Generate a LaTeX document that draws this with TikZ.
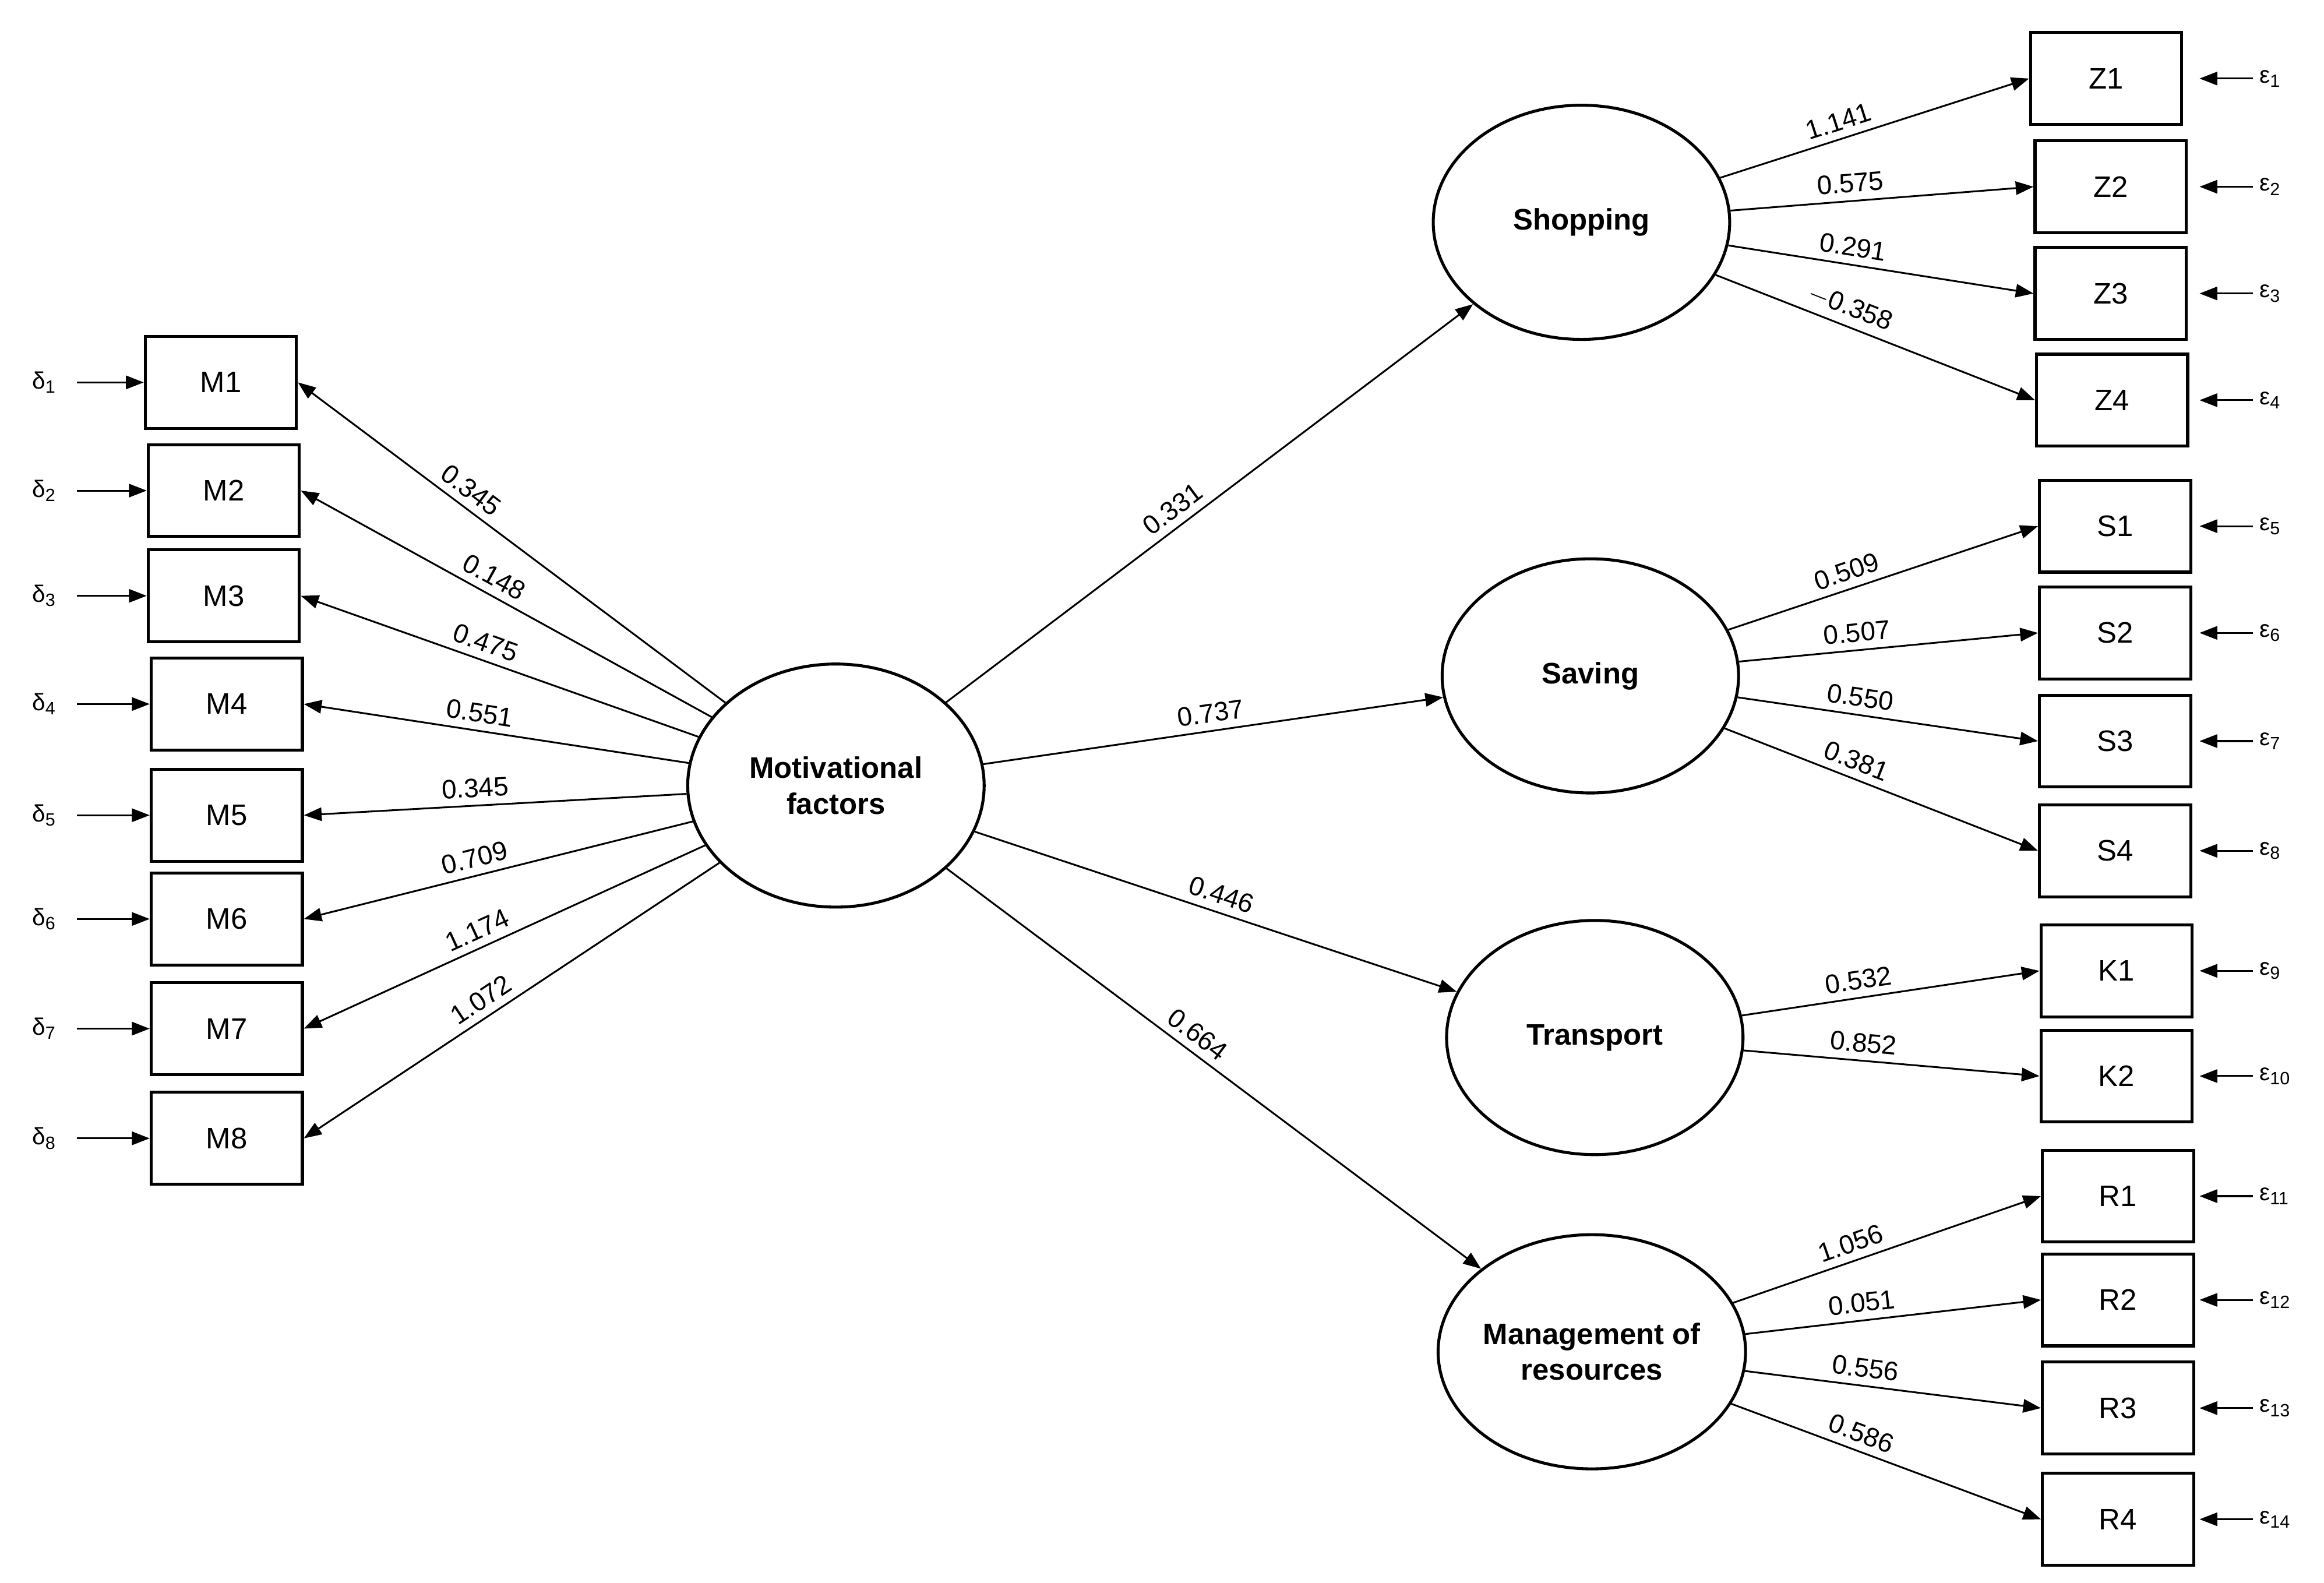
\documentclass[tikz,border=0pt]{standalone}
\usepackage{fontspec}
\setmainfont{Liberation Sans}
\usetikzlibrary{arrows.meta,shapes.geometric}
\begin{document}
\begin{tikzpicture}[x=0.5pt,y=-0.5pt,
 box/.style={draw,line width=1pt,minimum width=51pt,minimum height=31pt,inner sep=0pt,font=\fontsize{10}{12}\selectfont},
 lat/.style={draw,ellipse,line width=1pt,minimum width=100pt,minimum height=79pt,inner sep=0pt,font=\bfseries\fontsize{10}{12}\selectfont,align=center},
 arr/.style={line width=0.6pt,-{Triangle[length=6pt,width=4.5pt]}},
 lab/.style={sloped,above=2pt,inner sep=0.5pt,font=\fontsize{9}{10}\selectfont},
 err/.style={font=\fontsize{8}{10}\selectfont,inner sep=1pt}]
\useasboundingbox (0,0) rectangle (1568,1068);
\node[lat,minimum width=100pt,minimum height=82pt] (mot) at (564,530) {Motivational\\factors};
\node[lat] (shop) at (1067,150) {Shopping};
\node[lat] (sav) at (1073,456) {Saving};
\node[lat] (tra) at (1076,700) {Transport};
\node[lat] (man) at (1074,912) {Management of\\resources};
\foreach \n/\x/\y/\c/\p in {1/149/258/0.345/0.62,2/151/331/0.148/0.55,3/151/402/0.475/0.55,4/153/475/0.551/0.55,5/153/550/0.345/0.55,6/153/620/0.709/0.55,7/153/694/1.174/0.55,8/153/768/1.072/0.55}{
 \node[box] (M\n) at (\x,\y) {M\n};
 \node[err] (d\n) at (30,\y) {δ\textsubscript{\n}};
 \coordinate (dc\n) at (52,\y);
 \draw[arr] (dc\n) -- (M\n.west);
 \draw[arr] (mot) -- node[lab,pos=\p]{\c} (M\n.east);
}
\draw[arr] (mot) -- node[lab,pos=0.45]{0.331} (shop);
\draw[arr] (mot) -- node[lab,pos=0.5]{0.737} (sav);
\draw[arr] (mot) -- node[lab,pos=0.5]{0.446} (tra);
\draw[arr] (mot) -- node[lab,pos=0.45]{0.664} (man);
\foreach \n/\t/\x/\y/\src/\c/\e in {1/Z1/1421/53/shop/1.141/1,2/Z2/1424/126/shop/0.575/2,3/Z3/1424/198/shop/0.291/3,4/Z4/1425/270/shop/$-$0.358/4,
 5/S1/1427/355/sav/0.509/5,6/S2/1427/427/sav/0.507/6,7/S3/1427/500/sav/0.550/7,8/S4/1427/574/sav/0.381/8,
 9/K1/1428/655/tra/0.532/9,10/K2/1428/726/tra/0.852/10,
 11/R1/1429/807/man/1.056/11,12/R2/1429/877/man/0.051/12,13/R3/1429/950/man/0.556/13,14/R4/1429/1025/man/0.586/14}{
 \node[box] (b\n) at (\x,\y) {\t};
 \node[err,anchor=west] (e\n) at (1522,\y) {ε\textsubscript{\e}};
 \draw[arr] (e\n.west) ++(-2,0) coordinate (ec\n) -- ++(-36,0);
 \draw[arr] (\src) -- node[lab,pos=0.4]{\c} (b\n.west);
}
\end{tikzpicture}
\end{document}
